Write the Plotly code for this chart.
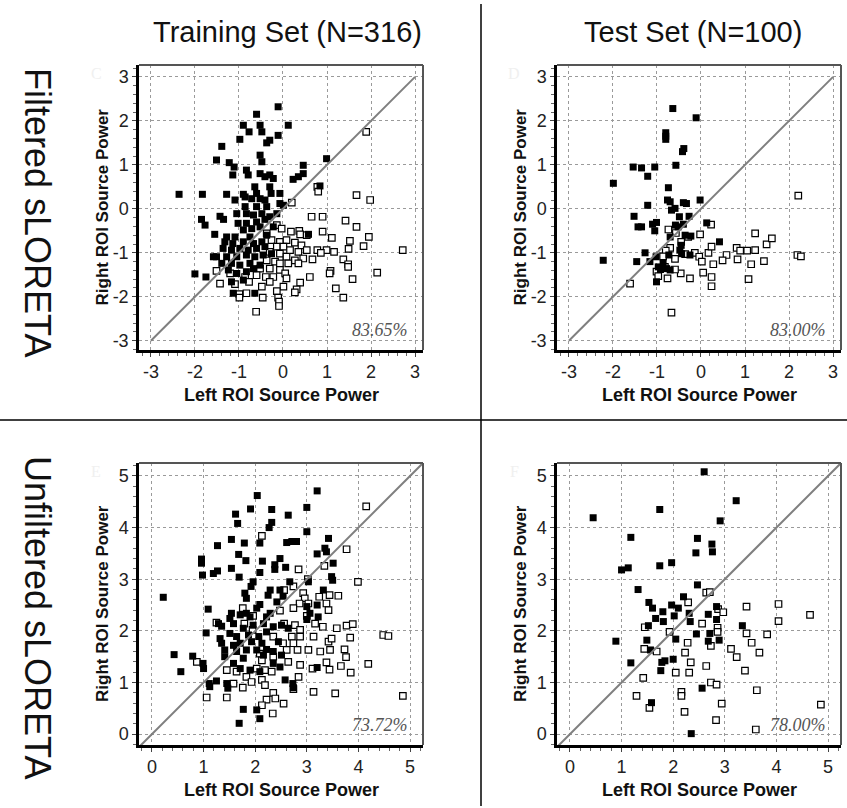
import plotly.graph_objects as go

# ---------------- data ----------------
# Top-left: Filtered sLORETA, Training set
tl_fill_x = [-0.11,-0.60,-0.90,-0.52,0.12,-0.77,-0.48,-0.11,-0.98,-0.30,-0.37,-1.39,-0.52,-1.51,-1.22,-1.11,-0.48,0.46,0.99,-0.83,
             -0.79,-1.14,-0.52,-0.41,-0.30,-0.22,0.23,0.35,0.46,0.84,-0.64,-0.60,-0.30,-0.27,-2.36,-1.83,-1.28,-0.90,-0.07,-1.09,
             -0.86,-0.71,-0.52,-0.41,-0.07,0.01,-0.86,-0.60,-0.37,-1.05,-0.83,-0.67,-0.48,-0.14,-1.85,-1.43,-1.35,-1.77,-1.02,-0.83,
             -0.60,-0.41,-0.30,-0.90,-0.71,-0.52,-0.22,0.58,-1.55,-1.28,-1.09,-0.75,-0.37,-1.32,-1.14,-0.90,-0.67,-0.48,-1.36,-1.17,
             -0.98,-0.79,-0.60,-0.41,-1.28,-1.05,-0.83,-0.64,-0.45,-0.26,-1.58,-1.51,-1.39,-1.17,-0.98,-0.75,-0.52,-1.24,-1.05,-0.83,
             -0.67,-2.00,-1.75,-1.17,-0.90,-0.64,-1.13]
tl_fill_y = [2.32,2.15,1.90,1.90,1.90,1.75,1.75,1.67,1.58,1.56,1.50,1.42,1.22,1.11,1.05,0.95,1.07,0.99,1.14,0.88,
             0.77,0.77,0.80,0.73,0.77,0.69,0.67,0.73,0.80,0.52,0.50,0.35,0.50,0.35,0.33,0.33,0.33,0.33,0.35,0.20,
             0.27,0.23,0.23,0.20,0.12,0.08,0.05,0.05,0.05,-0.11,-0.11,-0.14,-0.11,-0.11,-0.24,-0.17,-0.24,-0.37,-0.33,-0.33,
             -0.30,-0.24,-0.18,-0.48,-0.45,-0.41,-0.41,-0.58,-0.58,-0.64,-0.64,-0.64,-0.60,-0.75,-0.79,-0.75,-0.79,-0.75,-0.90,-0.94,
             -0.90,-0.94,-0.90,-0.86,-1.09,-1.09,-1.05,-1.09,-1.05,-1.02,-1.09,-1.09,-1.24,-1.24,-1.28,-1.24,-1.28,-1.39,-1.47,-1.43,
             -1.36,-1.48,-1.55,-1.66,-1.62,-1.92,-1.92]
tl_open_x = [1.89,0.78,0.80,1.67,1.98,0.20,0.65,0.90,1.42,1.67,-0.14,-0.03,0.18,0.37,0.39,0.54,0.90,1.11,1.95,1.52,
             1.83,2.72,-0.37,-0.26,-0.07,0.08,0.27,0.42,-0.14,0.01,0.16,0.35,0.54,0.78,0.99,1.16,0.86,1.49,-0.30,-0.07,
             0.08,0.27,0.46,0.67,1.37,1.48,-0.37,-0.18,-0.07,0.12,0.35,1.48,2.14,1.08,1.06,-0.30,-0.07,-0.52,-0.60,-0.39,
             -0.22,0.05,0.08,0.61,0.39,1.58,-1.43,-1.09,-0.86,-0.77,-0.48,-0.30,0.01,0.31,0.27,1.20,1.37,-0.99,-0.83,-0.99,
             -0.46,-0.14,-0.11,-0.09,-0.09,-0.61,-1.20,-1.51]
tl_open_y = [1.75,0.50,0.39,0.31,0.20,0.14,-0.18,-0.18,-0.27,-0.41,-0.37,-0.45,-0.52,-0.50,-0.58,-0.60,-0.52,-0.66,-0.64,-0.73,
             -0.85,-0.94,-0.56,-0.71,-0.75,-0.71,-0.77,-0.83,-0.86,-0.86,-0.94,-0.98,-0.94,-0.94,-0.94,-0.98,-1.00,-0.91,-0.98,-1.02,
             -1.09,-1.17,-1.13,-1.15,-1.15,-1.26,-1.17,-1.20,-1.24,-1.24,-1.24,-1.32,-1.45,-1.41,-1.47,-1.36,-1.39,-1.36,-1.51,-1.55,
             -1.55,-1.47,-1.58,-1.55,-1.68,-1.60,-1.70,-1.71,-1.55,-1.66,-1.77,-1.66,-1.77,-1.83,-1.90,-1.81,-2.02,-1.94,-1.92,-2.02,
             -2.02,-1.87,-2.02,-2.11,-2.21,-2.34,-1.47,-1.41]

# Top-right: Filtered sLORETA, Test set
tr_fill_x = [-0.64,-0.11,-0.80,-0.80,-0.80,-0.39,-0.42,-0.57,-1.54,-1.35,-1.05,-1.21,-1.99,-0.74,-0.76,-0.70,-0.02,-1.21,-0.40,-0.33,
             -0.59,-0.67,-1.52,-0.27,-0.49,-1.43,-1.35,-1.10,-1.01,-1.05,-0.58,-0.52,-0.40,0.13,-0.70,-0.36,-0.23,-0.45,-0.48,-0.44,
             -0.25,0.42,-1.27,-1.02,-0.73,-2.22,-1.46,-1.16,-0.97,-0.92,-0.86,-0.70,-0.78,-1.01]
tr_fill_y = [2.28,2.07,1.73,1.65,1.58,1.37,1.30,0.99,0.95,0.93,0.95,0.74,0.58,0.48,0.20,0.16,0.20,0.08,0.14,0.12,
             0.01,-0.03,-0.17,-0.17,-0.18,-0.41,-0.41,-0.35,-0.31,-0.50,-0.37,-0.41,-0.35,-0.32,-0.64,-0.60,-0.62,-0.83,-0.94,-1.02,
             -1.05,-0.75,-1.00,-1.09,-1.05,-1.17,-1.20,-1.20,-1.32,-1.38,-1.24,-1.39,-1.36,-1.66]
tr_open_x = [2.21,2.19,2.27,-1.61,-0.67,-0.74,-0.57,-0.45,-0.29,-0.02,0.23,-0.70,-0.80,-0.59,-0.86,-0.36,-0.14,-0.04,0.02,0.17,
             0.24,0.28,0.58,0.49,0.83,0.81,0.89,1.05,1.23,1.23,1.49,1.61,1.43,1.14,1.08,0.05,0.24,0.24,-0.25,-0.46,
             -0.76,-1.01,-0.82,-0.97,-0.59]
tr_open_y = [0.30,-1.05,-1.08,-1.70,-2.36,-0.47,-0.55,-0.75,-0.64,-0.58,-0.36,-0.89,-0.95,-1.14,-1.08,-1.03,-1.00,-1.09,-1.20,-1.00,
             -0.86,-1.26,-1.05,-1.17,-1.15,-0.89,-0.95,-0.95,-0.94,-0.56,-0.81,-0.67,-1.19,-1.26,-1.60,-1.45,-1.55,-1.76,-1.58,-1.47,
             -1.58,-1.43,-1.32,-1.53,-1.38]

# Bottom-left: Unfiltered sLORETA, Training set
bl_fill_x = [3.20,2.04,1.91,2.32,3.00,1.62,2.64,1.66,2.32,2.27,3.00,1.54,1.79,2.09,2.61,2.71,2.80,3.42,1.27,3.35,
             3.38,3.20,0.96,0.96,0.98,1.19,1.27,1.68,1.82,2.14,2.48,2.38,2.59,2.38,1.54,2.09,1.69,3.51,3.48,3.50,
             3.03,3.32,0.22,1.96,1.92,1.80,1.83,2.29,2.25,2.48,2.54,2.67,2.09,2.03,2.42,3.00,3.20,1.09,1.54,1.51,
             1.71,1.83,1.90,2.22,2.29,3.06,3.00,3.22,1.29,1.35,1.58,1.77,1.96,2.16,2.35,2.51,2.64,1.05,1.51,1.64,
             1.87,2.07,2.22,1.32,1.35,1.58,1.71,1.93,2.13,2.45,1.41,1.64,1.83,2.03,2.22,2.35,1.41,1.77,2.16,2.51,
             0.43,0.79,0.99,1.00,0.56,1.58,1.71,1.90,2.09,2.35,2.48,3.20,1.11,1.12,1.25,1.45,1.47,2.58,2.73,2.74,
             1.77,2.03,2.09,1.69]
bl_fill_y = [4.71,4.62,4.36,4.35,4.39,4.26,4.24,4.08,4.10,4.00,3.92,3.77,3.70,3.70,3.71,3.73,3.73,3.79,3.65,3.60,
             3.53,3.49,3.39,3.31,3.08,3.11,3.16,3.48,3.36,3.35,3.40,3.28,3.23,3.19,3.21,3.13,3.04,3.31,3.05,2.98,
             2.95,2.79,2.65,2.95,2.86,2.73,2.63,2.79,2.69,2.79,2.67,2.95,2.51,2.44,2.56,2.47,2.50,2.42,2.34,2.24,
             2.31,2.34,2.27,2.27,2.34,2.34,2.22,2.27,2.14,2.09,2.14,2.05,2.11,2.14,2.08,2.11,2.05,1.96,1.95,1.89,
             1.92,1.89,1.98,1.85,1.76,1.72,1.76,1.79,1.76,1.79,1.63,1.60,1.63,1.63,1.64,1.60,1.50,1.47,1.53,1.53,
             1.54,1.51,1.37,1.27,1.21,1.37,1.27,1.24,1.21,1.37,1.30,1.29,0.98,0.92,1.03,0.98,0.89,1.05,0.98,0.90,
             0.48,0.47,0.30,0.21]
bl_open_x = [4.15,2.13,3.77,2.84,3.34,3.99,3.02,2.74,2.56,2.93,2.96,3.24,3.44,3.61,3.38,3.42,2.86,2.74,3.03,1.76,
             1.96,2.48,3.00,3.16,3.31,3.58,3.77,3.89,4.48,4.58,1.25,1.79,1.95,2.56,2.77,2.87,2.71,2.87,3.13,3.42,
             3.48,3.84,2.35,2.54,2.74,2.61,2.82,3.03,3.26,3.45,3.73,3.76,2.09,2.35,2.64,2.87,3.11,3.38,3.44,3.66,
             3.85,4.19,0.87,1.45,1.64,1.83,2.03,2.19,2.32,2.13,2.84,3.13,2.74,3.55,1.06,1.45,1.58,1.76,1.93,2.13,
             2.19,2.35,2.22,2.39,2.55,2.13,2.34,4.86]
bl_open_y = [4.41,3.84,3.58,3.19,3.26,2.95,3.00,2.86,2.79,2.73,2.63,2.66,2.69,2.68,2.53,2.40,2.53,2.44,2.53,2.44,
             2.29,2.39,2.29,2.14,2.08,2.05,2.10,2.13,1.92,1.90,2.16,2.14,2.02,2.14,2.11,2.02,1.89,1.89,1.89,1.79,
             1.85,1.87,1.89,1.76,1.76,1.63,1.63,1.63,1.60,1.63,1.64,1.49,1.56,1.50,1.40,1.34,1.27,1.39,1.25,1.32,
             1.19,1.36,1.40,1.24,1.21,1.11,1.27,1.24,1.21,1.43,1.11,0.82,0.87,0.79,0.71,0.71,0.98,0.90,1.01,1.05,
             0.95,0.80,0.67,0.69,0.59,0.56,0.40,0.74]

# Bottom-right: Unfiltered sLORETA, Test set
br_fill_x = [2.60,3.22,0.45,1.74,2.91,1.18,2.47,2.75,2.76,2.44,1.74,1.97,1.00,1.13,1.32,2.47,2.20,1.53,1.60,1.97,
             2.10,2.31,2.84,1.80,2.02,1.66,2.68,1.81,2.33,2.84,1.52,3.34,2.45,2.71,2.05,0.89,1.49,2.68,2.89,1.56,
             1.18,1.78,1.84,2.00,1.76,2.56,1.58,2.35]
br_fill_y = [5.08,4.52,4.19,4.35,4.13,3.81,3.79,3.68,3.53,3.51,3.26,3.32,3.18,3.22,2.80,2.89,2.66,2.55,2.44,2.50,
             2.44,2.34,2.47,2.37,2.29,2.24,2.32,2.18,2.18,2.22,2.10,2.10,1.94,1.95,1.84,1.80,1.82,1.80,1.82,1.63,
             1.38,1.39,1.42,1.45,1.23,0.89,0.61,0.01]
br_open_x = [4.65,4.04,4.04,3.42,3.42,3.82,3.52,3.67,3.12,3.23,3.39,3.62,4.86,3.60,2.64,2.71,2.29,2.87,2.97,2.56,
             2.86,2.86,1.93,1.45,2.73,2.28,2.23,1.44,1.68,2.34,2.64,2.05,2.31,1.42,2.73,2.84,2.16,2.16,1.29,2.94,
             2.22,1.54,2.83]
br_open_y = [2.31,2.19,2.52,2.47,1.95,1.93,1.77,1.58,1.65,1.49,1.23,0.85,0.57,0.09,2.74,2.75,2.55,2.42,2.36,2.14,
             2.06,1.98,1.98,2.07,1.71,1.77,1.58,1.65,1.60,1.39,1.32,1.19,1.19,1.09,1.00,0.96,0.82,0.74,0.74,0.59,
             0.43,0.51,0.27]

accuracies = ["83.65%", "83.00%", "73.72%", "78.00%"]
panel_letters = ["C", "D", "E", "F"]
col_titles = ["Training Set (N=316)", "Test Set (N=100)"]
row_titles = ["Filtered sLORETA", "Unfiltered sLORETA"]
x_title = "Left ROI Source Power"
y_title = "Right ROI Source Power"
top_ticks = [-3, -2, -1, 0, 1, 2, 3]
bottom_ticks = [0, 1, 2, 3, 4, 5]

# ---------------- figure ----------------
W, H = 847, 808
NARROW = "Liberation Sans Narrow, Arial Narrow, Liberation Sans, Arial, sans-serif"
BOLD = "Liberation Sans, Arial, sans-serif"

fig = go.Figure()

def px_x(p):
    return p / W

def px_y(p):
    return 1 - p / H

panels = [
    dict(data=(tl_fill_x, tl_fill_y, tl_open_x, tl_open_y), xd=(139, 423), yd=(65, 350),
         xr=[-3.27, 3.18], yr=[-3.21, 3.27], ticks=top_ticks, diag=(-3, 3)),
    dict(data=(tr_fill_x, tr_fill_y, tr_open_x, tr_open_y), xd=(557, 841), yd=(65, 350),
         xr=[-3.27, 3.18], yr=[-3.21, 3.27], ticks=top_ticks, diag=(-3, 3)),
    dict(data=(bl_fill_x, bl_fill_y, bl_open_x, bl_open_y), xd=(139, 423), yd=(463, 745),
         xr=[-0.25, 5.25], yr=[-0.21, 5.25], ticks=bottom_ticks, diag=(-0.3, 5.4)),
    dict(data=(br_fill_x, br_fill_y, br_open_x, br_open_y), xd=(557, 841), yd=(463, 745),
         xr=[-0.25, 5.25], yr=[-0.21, 5.25], ticks=bottom_ticks, diag=(-0.3, 5.4)),
]

for i, p in enumerate(panels):
    n = i + 1
    xa = "x" if n == 1 else f"x{n}"
    ya = "y" if n == 1 else f"y{n}"
    fx, fy, ox, oy = p["data"]
    fig.add_trace(go.Scatter(x=ox, y=oy, mode="markers", xaxis=xa, yaxis=ya, showlegend=False,
                             marker=dict(symbol="square", size=6.5, color="white",
                                         line=dict(color="black", width=1.2)), cliponaxis=True))
    fig.add_trace(go.Scatter(x=fx, y=fy, mode="markers", xaxis=xa, yaxis=ya, showlegend=False,
                             marker=dict(symbol="square", size=7, color="black",
                                         line=dict(color="black", width=0)), cliponaxis=True))
    d0, d1 = p["diag"]
    fig.add_trace(go.Scatter(x=[d0, d1], y=[d0, d1], mode="lines", xaxis=xa, yaxis=ya, showlegend=False,
                             line=dict(color="#7f7f7f", width=2), cliponaxis=True, hoverinfo="skip"))

    axis_common = dict(
        showgrid=True, gridcolor="#9a9a9a", gridwidth=1, griddash="3px,3px",
        zeroline=False, showline=True, linecolor="black", linewidth=2.5, mirror=False,
        ticks="outside", ticklen=4, tickwidth=1, tickcolor="#444",
        tickvals=p["ticks"], ticktext=[str(t) for t in p["ticks"]],
        tickfont=dict(family=NARROW, size=18, color="#222"),
        minor=dict(ticks="outside", ticklen=3, tickwidth=1, tickcolor="#666", dtick=0.2, showgrid=False),
        fixedrange=True,
    )
    xdom = [px_x(p["xd"][0]), px_x(p["xd"][1])]
    ydom = [px_y(p["yd"][1]), px_y(p["yd"][0])]
    fig.layout[f"xaxis{'' if n == 1 else n}"] = dict(axis_common, domain=xdom, range=p["xr"], anchor=ya)
    fig.layout[f"yaxis{'' if n == 1 else n}"] = dict(axis_common, domain=ydom, range=p["yr"], anchor=xa)

    # top and right frame edges (thinner, dark gray)
    fig.add_shape(type="line", xref=f"{xa} domain", yref=f"{ya} domain", x0=0, x1=1, y0=1, y1=1,
                  line=dict(color="#555", width=2))
    fig.add_shape(type="line", xref=f"{xa} domain", yref=f"{ya} domain", x0=1, x1=1, y0=0, y1=1,
                  line=dict(color="#555", width=2))

    # accuracy label
    fig.add_annotation(text=f"<i>{accuracies[i]}</i>", xref=f"{xa} domain", yref=f"{ya} domain",
                       x=0.955, y=0.07, xanchor="right", yanchor="middle", showarrow=False,
                       font=dict(family="Liberation Serif, Times New Roman, serif", size=18, color="#555"))
    # faint panel letter
    fig.add_annotation(text=panel_letters[i], xref=f"{xa} domain", yref=f"{ya} domain",
                       x=-0.15, y=0.97, xanchor="center", yanchor="middle", showarrow=False,
                       font=dict(family="Liberation Serif, serif", size=16, color="#f0f0f0"))

    # axis titles
    cx = (p["xd"][0] + p["xd"][1]) / 2
    cy = (p["yd"][0] + p["yd"][1]) / 2
    fig.add_annotation(text=f"<b>{x_title}</b>", xref="paper", yref="paper",
                       x=px_x(cx), y=px_y(p["yd"][1] + 45), xanchor="center", yanchor="middle",
                       showarrow=False, font=dict(family=BOLD, size=18, color="#111"))
    fig.add_annotation(text=f"<b>{y_title}</b>", xref="paper", yref="paper",
                       x=px_x(p["xd"][0] - 37), y=px_y(cy), xanchor="center", yanchor="middle",
                       textangle=-90, showarrow=False, font=dict(family=BOLD, size=17, color="#111"))

# column titles
for t, cx in zip(col_titles, [287, 693]):
    fig.add_annotation(text=t, xref="paper", yref="paper", x=px_x(cx), y=px_y(32),
                       xanchor="center", yanchor="middle", showarrow=False,
                       font=dict(family=NARROW, size=29, color="#111"))
# row titles
for t, cy in zip(row_titles, [212, 617]):
    fig.add_annotation(text=t, xref="paper", yref="paper", x=px_x(38), y=px_y(cy),
                       xanchor="center", yanchor="middle", textangle=90, showarrow=False,
                       font=dict(family=NARROW, size=36, color="#111"))

# divider lines
fig.add_shape(type="line", xref="paper", yref="paper", x0=px_x(481), x1=px_x(481), y0=px_y(806), y1=px_y(4),
              line=dict(color="black", width=1.5))
fig.add_shape(type="line", xref="paper", yref="paper", x0=0, x1=1, y0=px_y(420), y1=px_y(420),
              line=dict(color="black", width=1.5))

fig.update_layout(width=W, height=H, margin=dict(l=0, r=0, t=0, b=0),
                  paper_bgcolor="white", plot_bgcolor="white", showlegend=False)

fig.write_html("out.html")
